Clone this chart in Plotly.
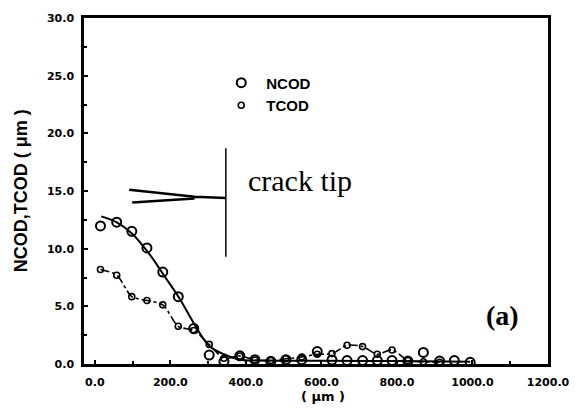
import plotly.graph_objects as go

# Measured opening displacements along the crack flank (distance in um)
ncod_x = [15, 58, 98, 138, 180, 221, 262, 303, 342, 384, 424, 466, 506, 548, 589,
          628, 668, 709, 748, 787, 829, 870, 913, 952, 994]
ncod_y = [11.97, 12.3, 11.5, 10.06, 7.97, 5.84, 3.08, 0.77, 0.23, 0.71, 0.37, 0.23,
          0.37, 0.37, 1.08, 0.35, 0.3, 0.3, 0.3, 0.3, 0.25, 1.0, 0.25, 0.3, 0.15]

tcod_x = [15, 58, 98, 138, 180, 221, 262, 303, 342, 384, 424, 466, 506, 548, 589,
          628, 668, 709, 748, 787, 829, 870, 913]
tcod_y = [8.2, 7.7, 5.84, 5.5, 5.13, 3.27, 2.9, 1.7, 0.5, 0.7, 0.35, 0.3, 0.45,
          0.6, 0.85, 0.9, 1.62, 1.51, 0.85, 1.22, 0.3, 0.2, 0.15]

# Smooth fitted curve for NCOD
fit_x = [17, 57, 99, 143, 187, 226, 261, 303, 342, 384, 450, 600, 800, 994]
fit_y = [12.8, 12.3, 11.3, 9.6, 7.5, 5.6, 3.6, 1.56, 0.85, 0.37, 0.3, 0.28, 0.25, 0.2]

x_tick_vals = [0, 200, 400, 600, 800, 1000, 1200]
x_tick_text = ["0.0", "200.0", "400.0", "600.0", "800.0", "1000.0", "1200.0"]
y_tick_vals = [0, 5, 10, 15, 20, 25, 30]
y_tick_text = ["0.0", "5.0", "10.0", "15.0", "20.0", "25.0", "30.0"]

tick_font = dict(family="DejaVu Sans", size=11, color="black", weight="bold")

fig = go.Figure()

fig.add_trace(go.Scatter(
    x=fit_x, y=fit_y, mode="lines", showlegend=False,
    line=dict(color="black", width=2, shape="spline", smoothing=1.0),
))
fig.add_trace(go.Scatter(
    x=tcod_x, y=tcod_y, mode="lines", showlegend=False,
    line=dict(color="black", width=1.6, dash="dashdot", shape="spline", smoothing=0.8),
))
fig.add_trace(go.Scatter(
    x=ncod_x, y=ncod_y, mode="markers", name="NCOD",
    marker=dict(symbol="circle-open", size=9, color="black", line=dict(width=2)),
))
fig.add_trace(go.Scatter(
    x=tcod_x, y=tcod_y, mode="markers", name="TCOD",
    marker=dict(symbol="circle-open", size=6, color="black", line=dict(width=1.6)),
))

# Crack-tip marker: vertical line and tapered wedge pointing to it
fig.add_shape(type="line", xref="x", yref="y", x0=347, x1=347, y0=9.3, y1=18.7,
              line=dict(color="black", width=1.5))
fig.add_shape(type="path", xref="x", yref="y",
              path="M 91,15.1 L 264,14.5 L 347,14.4 M 99,14.0 L 264,14.35",
              line=dict(color="black", width=2.5))

fig.add_annotation(x=0.35, y=0.53, xref="paper", yref="paper", text="crack tip",
                   showarrow=False, xanchor="left", yanchor="middle",
                   font=dict(family="Liberation Serif", size=30, color="black"))
fig.add_annotation(x=0.903, y=0.14, xref="paper", yref="paper", text="<b>(a)</b>",
                   showarrow=False, xanchor="center", yanchor="middle",
                   font=dict(family="Liberation Serif", size=28, color="black"))
fig.add_annotation(x=-0.135, y=0.5, xref="paper", yref="paper",
                   text="<b>NCOD,TCOD ( μm )</b>", textangle=-90, showarrow=False,
                   xanchor="center", yanchor="middle",
                   font=dict(family="Liberation Sans", size=18, color="black"))
fig.add_annotation(x=0.516, y=-0.095, xref="paper", yref="paper",
                   text="<b>( μm )</b>", showarrow=False,
                   xanchor="center", yanchor="middle",
                   font=dict(family="DejaVu Sans", size=13, color="black"))

fig.update_layout(
    width=582, height=413,
    margin=dict(l=84, r=25, t=15, b=49),
    paper_bgcolor="white", plot_bgcolor="white",
    showlegend=True,
    legend=dict(x=0.285, y=0.86, xanchor="left", yanchor="top",
                bgcolor="rgba(0,0,0,0)", itemwidth=40, tracegroupgap=0,
                font=dict(family="Liberation Sans", size=15, color="black", weight="bold")),
)

fig.update_xaxes(
    range=[-28.6, 1200], tickvals=x_tick_vals, ticktext=x_tick_text,
    ticks="inside", ticklen=4, tickwidth=1.5, tickcolor="black",
    minor=dict(dtick=100, ticks="inside", ticklen=3, tickcolor="black"),
    showgrid=False, zeroline=False, showline=True, linecolor="black", linewidth=2.5,
    mirror=True, tickfont=tick_font, ticklabelstandoff=6,
)
fig.update_yaxes(
    range=[0, 30], tickvals=y_tick_vals, ticktext=y_tick_text,
    ticks="inside", ticklen=4, tickwidth=1.5, tickcolor="black",
    minor=dict(dtick=2.5, ticks="inside", ticklen=3, tickcolor="black"),
    showgrid=False, zeroline=False, showline=True, linecolor="black", linewidth=2.5,
    mirror=True, tickfont=tick_font, ticklabelstandoff=5,
)

fig.write_html("out.html")
